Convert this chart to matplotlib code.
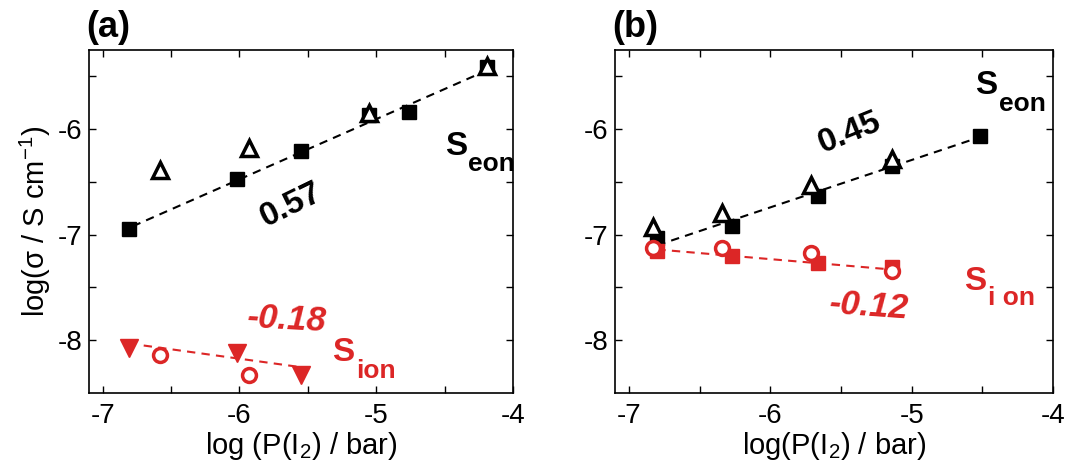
import matplotlib
matplotlib.use("Agg")
import matplotlib.pyplot as plt
import numpy as np

plt.rcParams['font.family'] = ['Liberation Sans', 'DejaVu Sans']
plt.rcParams['mathtext.fontset'] = 'custom'
plt.rcParams['mathtext.rm'] = 'Liberation Sans'
plt.rcParams['axes.unicode_minus'] = False

RED = '#dc2626'

# panel (a)
a_sq_x = [-6.81, -6.02, -5.55, -5.05, -4.76, -4.19]
a_sq_y = [-6.95, -6.47, -6.21, -5.87, -5.84, -5.41]
a_tri_x = [-6.58, -5.93, -5.05, -4.19]
a_tri_y = [-6.39, -6.18, -5.85, -5.40]
a_dn_x = [-6.81, -6.02, -5.55]
a_dn_y = [-8.07, -8.12, -8.33]
a_circ_x = [-6.58, -5.93]
a_circ_y = [-8.14, -8.33]
a_eon_fit = ([-6.78, -4.22], [-6.92, -5.46])
a_ion_fit = ([-6.70, -5.58], [-8.05, -8.25])

# panel (b)
b_sq_x = [-6.80, -6.27, -5.66, -5.14, -4.52]
b_sq_y = [-7.03, -6.92, -6.63, -6.35, -6.06]
b_tri_x = [-6.83, -6.34, -5.71, -5.14]
b_tri_y = [-6.93, -6.79, -6.53, -6.28]
b_rsq_x = [-6.80, -6.27, -5.66, -5.14]
b_rsq_y = [-7.15, -7.20, -7.27, -7.31]
b_circ_x = [-6.83, -6.34, -5.71, -5.14]
b_circ_y = [-7.13, -7.13, -7.17, -7.34]
b_eon_fit = ([-6.80, -4.55], [-7.10, -6.09])
b_ion_fit = ([-6.80, -5.14], [-7.14, -7.33])

fig = plt.figure(figsize=(10.8, 4.61), dpi=100)
ax1 = fig.add_axes([0.0824, 0.1475, 0.3926, 0.744])
ax2 = fig.add_axes([0.5694, 0.1475, 0.4056, 0.744])

dash = (0, (4, 3))


def style(ax):
    ax.set_xlim(-7.1, -4)
    ax.set_ylim(-8.5, -5.25)
    ax.set_xticks([-7, -6, -5, -4])
    ax.set_yticks([-8, -7, -6])
    ax.set_xticks([-6.5, -5.5, -4.5], minor=True)
    ax.set_yticks([-7.5, -6.5, -5.5], minor=True)
    ax.tick_params(which='both', direction='in', top=True, right=True,
                   length=5, width=1, labelsize=20)
    ax.tick_params(axis='x', pad=7)
    ax.tick_params(axis='y', pad=5)
    for s in ax.spines.values():
        s.set_linewidth(1.2)


def seon(ax, x, y, color, sub, down=13):
    # x is the left edge of the big S
    ax.text(x, y, 'S', fontsize=24, fontweight='bold', color=color,
            ha='left', va='center')
    ax.annotate(sub, (x, y), xytext=(17, -down), textcoords='offset points',
                fontsize=19, fontweight='bold', color=color,
                ha='left', va='center')


# (a)
ax1.plot(*a_eon_fit, color='black', ls=dash, lw=1.5, zorder=1)
ax1.plot(*a_ion_fit, color=RED, ls=dash, lw=1.5, zorder=1)
ax1.plot(a_sq_x, a_sq_y, 's', color='black', ms=10, ls='none', zorder=2)
ax1.plot(a_tri_x, a_tri_y, '^', mfc='white', mec='black', mew=2.5, ms=11,
         ls='none', zorder=3)
ax1.plot(a_dn_x, a_dn_y, 'v', color=RED, ms=13, ls='none', zorder=2)
ax1.plot(a_circ_x, a_circ_y, 'o', mfc='white', mec=RED, mew=2.5, ms=10,
         ls='none', zorder=3)
ax1.text(-5.62, -6.72, '0.57', fontsize=24, fontweight='bold', rotation=26,
         ha='center', va='center', rotation_mode='anchor')
ax1.text(-5.66, -7.80, '-0.18', fontsize=25, fontweight='bold', style='italic',
         color=RED, rotation=-3, ha='center', va='center', rotation_mode='anchor')
seon(ax1, -4.50, -6.16, 'black', 'eon')
seon(ax1, -5.32, -8.12, RED, 'ion')
style(ax1)
ax1.set_xlabel('log (P(I$_2$) / bar)', fontsize=21, labelpad=1)
ax1.set_ylabel('log(σ / S cm$^{-1}$)', fontsize=21, labelpad=3)
ax1.text(-7.12, -5.2, '(a)', fontsize=26, fontweight='bold', ha='left', va='bottom')

# (b)
ax2.plot(*b_eon_fit, color='black', ls=dash, lw=1.5, zorder=1)
ax2.plot(*b_ion_fit, color=RED, ls=dash, lw=1.5, zorder=1)
ax2.plot(b_sq_x, b_sq_y, 's', color='black', ms=10, ls='none', zorder=2)
ax2.plot(b_rsq_x, b_rsq_y, 's', color=RED, ms=10, ls='none', zorder=2)
ax2.plot(b_tri_x, b_tri_y, '^', mfc='white', mec='black', mew=2.5, ms=11,
         ls='none', zorder=3)
ax2.plot(b_circ_x, b_circ_y, 'o', mfc='white', mec=RED, mew=2.5, ms=10,
         ls='none', zorder=3)
ax2.text(-5.44, -6.04, '0.45', fontsize=24, fontweight='bold', rotation=22,
         ha='center', va='center', rotation_mode='anchor')
ax2.text(-5.31, -7.68, '-0.12', fontsize=25, fontweight='bold', style='italic',
         color=RED, rotation=-4, ha='center', va='center', rotation_mode='anchor')
seon(ax2, -4.55, -5.59, 'black', 'eon')
seon(ax2, -4.63, -7.44, RED, 'i on', down=12)
style(ax2)
ax2.set_xlabel('log(P(I$_2$) / bar)', fontsize=21, labelpad=1)
ax2.text(-7.12, -5.2, '(b)', fontsize=26, fontweight='bold', ha='left', va='bottom')

fig.savefig('out.png', dpi=100)
